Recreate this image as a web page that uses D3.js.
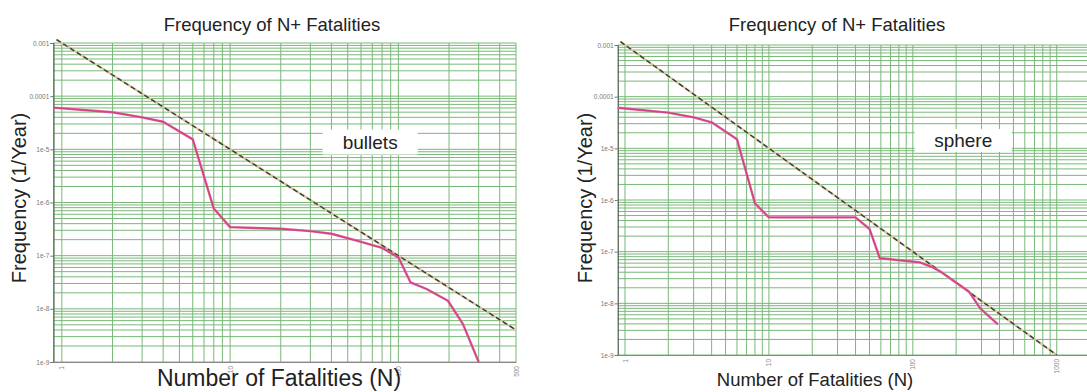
<!doctype html>
<html lang="en">
<head>
<meta charset="UTF-8">
<title>Frequency of N+ Fatalities</title>
<script src="https://d3js.org/d3.v7.min.js"></script>
<style>
    body { margin: 0; background: #fff; }
    svg text { font-family: "Liberation Sans", Arial, sans-serif; }
</style>
</head>
<body>
<div id="chart"></div>
<script>
    // F-N curve, bullets case
    const bulletsN = [0.89, 2, 3, 4, 6, 8, 10, 20, 30, 40, 58, 80, 100, 118, 147, 197, 242, 300]
    const bulletsF = [6.08e-5, 4.98e-5, 4.0e-5, 3.3e-5, 1.54e-5, 7.7e-7, 3.44e-7, 3.2e-7, 2.89e-7,
                      2.58e-7, 1.87e-7, 1.40e-7, 9.3e-8, 3.15e-8, 2.36e-8, 1.42e-8, 5.15e-9, 1.0e-9]

    // F-N curve, sphere case
    const sphereN = [0.89, 2, 3, 4, 6, 8, 10, 40, 50, 59, 67, 112, 135, 160, 210, 245, 294, 390]
    const sphereF = [6.1e-5, 4.9e-5, 3.98e-5, 3.19e-5, 1.5e-5, 8.6e-7, 4.6e-7, 4.6e-7, 2.75e-7,
                     7.45e-8, 7.2e-8, 6.2e-8, 5.1e-8, 3.9e-8, 2.3e-8, 1.7e-8, 8e-9, 3.9e-9]

    // criterion line (dashed), end points
    const critLeftN = [0.93, 500]
    const critLeftF = [1.16e-3, 4e-9]
    const critRightN = [0.93, 1000]
    const critRightF = [1.16e-3, 1e-9]

    const yTicks = [1e-3, 1e-4, 1e-5, 1e-6, 1e-7, 1e-8, 1e-9]
    const yTickLabels = ['0.001', '0.0001', '1e-5', '1e-6', '1e-7', '1e-8', '1e-9']
    const xTicksLeft = [1, 10, 100, 500]
    const xTicksRight = [1, 10, 100, 1000]

    const titleText = 'Frequency of N+ Fatalities'
    const xLabelText = 'Number of Fatalities (N)'
    const yLabelText = 'Frequency (1/Year)'

    // annotation boxes: [N, F]
    const bulletsLabelPos = [68, 1.37e-5]
    const sphereLabelPos = [224, 1.42e-5]

    const W = 1087, H = 392
    const svg = d3.select('#chart').append('svg')
        .attr('width', W).attr('height', H)

    const panels = [
        { n: bulletsN, f: bulletsF, cn: critLeftN, cf: critLeftF, xTicks: xTicksLeft,
          xDom: [0.89, 500], left: 53.3, right: 516, top: 43, bottom: 362,
          label: 'bullets', labelPos: bulletsLabelPos, boxW: 95, boxH: 25,
          titleX: 272, xLabX: 279, xLabSize: 23, yLabX: 26 },
        { n: sphereN, f: sphereF, cn: critRightN, cf: critRightF, xTicks: xTicksRight,
          xDom: [0.89, 1623], left: 617.7, right: 1087, top: 45, bottom: 355,
          label: 'sphere', labelPos: sphereLabelPos, boxW: 97, boxH: 23,
          titleX: 837, xLabX: 815, xLabSize: 18.5, yLabX: 592 }
    ]

    panels.forEach(function(p, idx) {
        const x = d3.scaleLog().domain(p.xDom).range([p.left, p.right])
        const y = d3.scaleLog().domain([1e-9, 1e-3]).range([p.bottom, p.top])
        const g = svg.append('g')

        const clipId = 'clip' + idx
        svg.append('clipPath').attr('id', clipId)
            .append('rect')
            .attr('x', p.left).attr('y', p.top - 4)
            .attr('width', p.right - p.left).attr('height', p.bottom - p.top + 4)

        // grid lines
        const xGrid = [], yGrid = []
        for (let k = -1; k <= 3; k++) {
            for (let m = 1; m <= 9; m++) {
                const v = m * Math.pow(10, k)
                if (v >= p.xDom[0] && v <= p.xDom[1]) xGrid.push(v)
            }
        }
        for (let k = -9; k <= -3; k++) {
            for (let m = 1; m <= 9; m++) {
                const v = m * Math.pow(10, k)
                if (v >= 1e-9 && v <= 1.0001e-3) yGrid.push(v)
            }
        }
        g.append('g').selectAll('line')
            .data(yGrid).enter().append('line')
            .attr('x1', p.left).attr('x2', p.right)
            .attr('y1', d => y(d)).attr('y2', d => y(d))
            .attr('stroke', '#79b879').attr('stroke-width', 1)
        g.append('g').selectAll('line')
            .data(xGrid).enter().append('line')
            .attr('x1', d => x(d)).attr('x2', d => x(d))
            .attr('y1', p.top).attr('y2', p.bottom)
            .attr('stroke', '#79b879').attr('stroke-width', 1)

        // axes
        const yAxis = g.append('g')
            .attr('transform', 'translate(' + p.left + ',0)')
            .call(d3.axisLeft(y).tickValues(yTicks)
                .tickFormat((d, i) => yTickLabels[i]).tickSize(3).tickPadding(1))
        yAxis.select('.domain').attr('stroke', '#555')
        yAxis.selectAll('.tick line').attr('stroke', '#777')
        yAxis.selectAll('.tick text').attr('fill', '#777')
            .style('font-size', '6.5px')

        const xAxis = g.append('g')
            .attr('transform', 'translate(0,' + p.bottom + ')')
            .call(d3.axisBottom(x).tickValues(p.xTicks).tickFormat(d3.format('d')).tickSize(0))
        xAxis.select('.domain').attr('stroke', '#888')
        xAxis.selectAll('.tick text')
            .attr('fill', '#888')
            .style('font-size', '6.5px')
            .attr('text-anchor', 'end')
            .attr('dy', '0.32em')
            .attr('transform', 'translate(0,4) rotate(-90)')
            .attr('x', 0).attr('y', 0)

        const plot = g.append('g').attr('clip-path', 'url(#' + clipId + ')')

        // criterion line
        const crit = p.cn.map((d, i) => [d, p.cf[i]])
        const line = d3.line().x(d => x(d[0])).y(d => y(d[1]))
        plot.append('path').datum(crit)
            .attr('d', line).attr('fill', 'none')
            .attr('stroke', '#d8c79a').attr('stroke-width', 2.2)
        plot.append('path').datum(crit)
            .attr('d', line).attr('fill', 'none')
            .attr('stroke', '#3a3a3a').attr('stroke-width', 1.4)
            .attr('stroke-dasharray', '5,3')

        // F-N curve
        const pts = p.n.map((d, i) => [d, p.f[i]])
        plot.append('path').datum(pts)
            .attr('d', line).attr('fill', 'none')
            .attr('stroke', '#e2579a').attr('stroke-width', 2.4)
            .attr('stroke-linejoin', 'round')
        plot.append('path').datum(pts)
            .attr('d', line).attr('fill', 'none')
            .attr('stroke', '#b8306a').attr('stroke-width', 0.8)
            .attr('stroke-opacity', 0.7)

        // annotation
        const lx = x(p.labelPos[0]), ly = y(p.labelPos[1])
        g.append('rect')
            .attr('x', lx - p.boxW / 2).attr('y', ly - p.boxH / 2)
            .attr('width', p.boxW).attr('height', p.boxH)
            .attr('fill', '#fff')
        g.append('text')
            .attr('x', lx).attr('y', ly)
            .attr('dy', '0.35em')
            .attr('text-anchor', 'middle')
            .style('font-size', '19px')
            .attr('fill', '#222')
            .text(p.label)

        // titles and axis labels
        svg.append('text')
            .attr('x', p.titleX).attr('y', 31)
            .attr('text-anchor', 'middle')
            .style('font-size', '18.5px').attr('fill', '#222')
            .text(titleText)
        svg.append('text')
            .attr('x', p.xLabX).attr('y', 386)
            .attr('text-anchor', 'middle')
            .style('font-size', p.xLabSize + 'px').attr('fill', '#222')
            .text(xLabelText)
        svg.append('text')
            .attr('transform', 'translate(' + p.yLabX + ',198) rotate(-90)')
            .attr('text-anchor', 'middle')
            .style('font-size', '20px').attr('fill', '#222')
            .text(yLabelText)
    })
</script>
</body>
</html>
